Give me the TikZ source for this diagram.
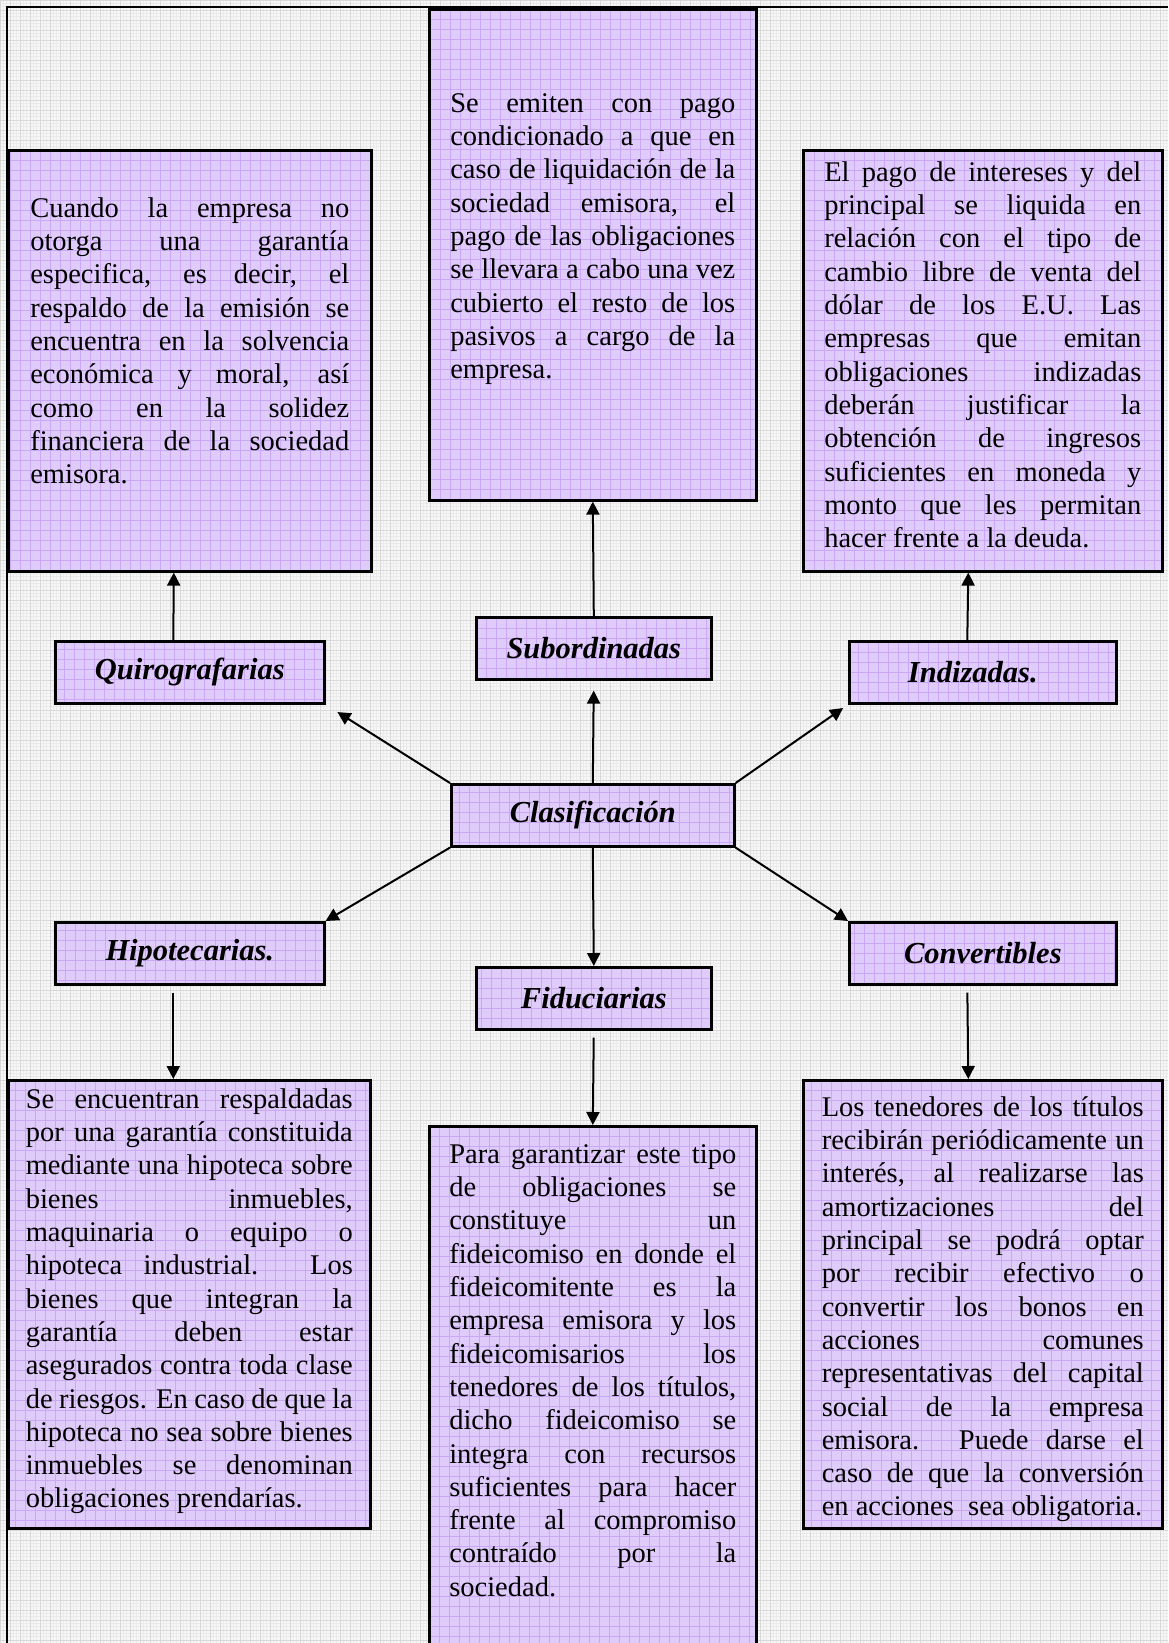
\documentclass[tikz,border=0pt]{standalone}
\usepackage{fontspec}
\setmainfont{Liberation Serif}
\usetikzlibrary{arrows.meta}

\definecolor{lav}{RGB}{224,204,250}
\definecolor{lavline}{RGB}{203,168,246}
\definecolor{bgbase}{RGB}{247,247,247}
\definecolor{bgminor}{RGB}{234,234,234}
\definecolor{bgmajor}{RGB}{216,216,216}

\newcommand\bodyfont{\fontsize{28.5pt}{33.3pt}\selectfont}
\newcommand\labfont{\fontsize{30.5pt}{36pt}\selectfont\bfseries\itshape}
% one justified line, and a closing (ragged) line
\newcommand\jl[1]{\makebox[\linewidth][s]{\strut #1}\par}
\newcommand\lastline[1]{\strut #1\par}
% text block of a panel: width, height, space above the first line, lines
\newcommand\panelbody[4]{\begin{minipage}[t][#2][t]{#1}\bodyfont\vspace*{#3}#4\end{minipage}}

\tikzset{
  gridfill/.style={fill=lav,
    path picture={\draw[lavline, line width=0.8pt]
      (path picture bounding box.north west) grid[step=10pt]
      (path picture bounding box.south east);}},
  panel/.style={gridfill, draw=black, line width=2.6pt, anchor=north west,
    inner ysep=0pt},
  lab/.style={gridfill, draw=black, line width=2.6pt, anchor=north west,
    font=\labfont, minimum height=62pt, inner sep=0pt},
  arr/.style={draw=black, line width=2pt,
    -{Triangle[length=13pt,width=13pt]}},
}

\begin{document}
\begin{tikzpicture}[x=1pt,y=-1pt]
  \useasboundingbox (0,0) rectangle (1168,1643);
  \clip (0,0) rectangle (1168,1643);

  % page background with its fine grid
  \fill[bgbase] (0,0) rectangle (1168,1643);
  \draw[bgminor, line width=0.6pt] (0pt,0pt) grid[step=3.333pt] (1168pt,-1643pt);
  \draw[bgmajor, line width=0.6pt] (0pt,0pt) grid[step=10pt] (1168pt,-1643pt);

  % outer frame (top and left edges)
  \draw[line width=2pt] (7,1643) -- (7,7) -- (1168,7);

  % description panels
  \node[panel, inner xsep=22pt] (quiroT) at (7,149) {\panelbody{319pt}{421pt}{43.7pt}{%
    \jl{Cuando la empresa no}
    \jl{otorga una garantía}
    \jl{especifica, es decir, el}
    \jl{respaldo de la emisión se}
    \jl{encuentra en la solvencia}
    \jl{económica y moral, así}
    \jl{como en la solidez}
    \jl{financiera de la sociedad}
    \lastline{emisora.}}};

  \node[panel, inner xsep=21pt] (subT) at (428,8) {\panelbody{285pt}{491pt}{79.7pt}{%
    \jl{Se emiten con pago}
    \jl{condicionado a que en}
    \jl{caso de liquidación de la}
    \jl{sociedad emisora, el}
    \jl{pago de las obligaciones}
    \jl{se llevara a cabo una vez}
    \jl{cubierto el resto de los}
    \jl{pasivos a cargo de la}
    \lastline{empresa.}}};

  \node[panel, inner xsep=21pt] (indT) at (802,149) {\panelbody{317pt}{421pt}{7.7pt}{%
    \jl{El pago de intereses y del}
    \jl{principal se liquida en}
    \jl{relación con el tipo de}
    \jl{cambio libre de venta del}
    \jl{dólar de los E.U. Las}
    \jl{empresas que emitan}
    \jl{obligaciones indizadas}
    \jl{deberán justificar la}
    \jl{obtención de ingresos}
    \jl{suficientes en moneda y}
    \jl{monto que les permitan}
    \lastline{hacer frente a la deuda.}}};

  \node[panel, inner xsep=17.5pt] (hipT) at (7,1079) {\panelbody{327pt}{448pt}{4.7pt}{%
    \jl{Se encuentran respaldadas}
    \jl{por una garantía constituida}
    \jl{mediante una hipoteca sobre}
    \jl{bienes inmuebles,}
    \jl{maquinaria o equipo o}
    \jl{hipoteca industrial. Los}
    \jl{bienes que integran la}
    \jl{garantía deben estar}
    \jl{asegurados contra toda clase}
    \jl{de riesgos. En caso de que la}
    \jl{hipoteca no sea sobre bienes}
    \jl{inmuebles se denominan}
    \lastline{obligaciones prendarías.}}};

  \node[panel, inner xsep=20pt] (fidT) at (428,1125) {\panelbody{287pt}{560pt}{13.7pt}{%
    \jl{Para garantizar este tipo}
    \jl{de obligaciones se}
    \jl{constituye un}
    \jl{fideicomiso en donde el}
    \jl{fideicomitente es la}
    \jl{empresa emisora y los}
    \jl{fideicomisarios los}
    \jl{tenedores de los títulos,}
    \jl{dicho fideicomiso se}
    \jl{integra con recursos}
    \jl{suficientes para hacer}
    \jl{frente al compromiso}
    \jl{contraído por la}
    \lastline{sociedad.}}};

  \node[panel, inner xsep=18.5pt] (conT) at (802,1079) {\panelbody{322pt}{448pt}{12.7pt}{%
    \jl{Los tenedores de los títulos}
    \jl{recibirán periódicamente un}
    \jl{interés, al realizarse las}
    \jl{amortizaciones del}
    \jl{principal se podrá optar}
    \jl{por recibir efectivo o}
    \jl{convertir los bonos en}
    \jl{acciones comunes}
    \jl{representativas del capital}
    \jl{social de la empresa}
    \jl{emisora. Puede darse el}
    \jl{caso de que la conversión}
    \lastline{en acciones\ \ sea obligatoria.}}};

  % category labels
  \node[lab, minimum width=269pt] (quiroL) at (54,640)  {Quirografarias};
  \node[lab, minimum width=235pt] (subL)   at (475,616) {Subordinadas};
  \node[lab, minimum width=267pt] (indL)   at (848,640) {Indizadas.\hspace*{20pt}};
  \node[lab, minimum width=283pt] (clasL)  at (450,783) {Clasificación};
  \node[lab, minimum width=269pt] (hipL)   at (54,921)  {Hipotecarias.};
  \node[lab, minimum width=235pt] (fidL)   at (475,966) {Fiduciarias};
  \node[lab, minimum width=267pt] (conL)   at (848,921) {Convertibles};

  % connectors from the centre
  \draw[arr, shorten >=14pt] (clasL.north west) -- (quiroL.south east);
  \draw[arr, shorten >=10pt] (clasL.north) -- (subL.south);
  \draw[arr, shorten >=6pt] (clasL.north east) -- (indL.south west);
  \draw[arr] (clasL.south west) -- (hipL.north east);
  \draw[arr] (clasL.south) -- (fidL.north);
  \draw[arr] (clasL.south east) -- (conL.north west);

  % connectors from labels to their panels
  \draw[arr] ([xshift=-16.5pt]quiroL.north) -- ([xshift=-16pt]quiroT.south);
  \draw[arr] (subL.north) -- (subT.south);
  \draw[arr] ([xshift=-15.5pt]indL.north) -- ([xshift=-14.5pt]indT.south);
  \draw[arr, shorten <=7pt] ([xshift=-16.5pt]hipL.south) -- ([xshift=-16pt]hipT.north);
  \draw[arr, shorten <=7pt] (fidL.south) -- (fidT.north);
  \draw[arr, shorten <=7pt] ([xshift=-15.5pt]conL.south) -- ([xshift=-14.5pt]conT.north);
\end{tikzpicture}
\end{document}
